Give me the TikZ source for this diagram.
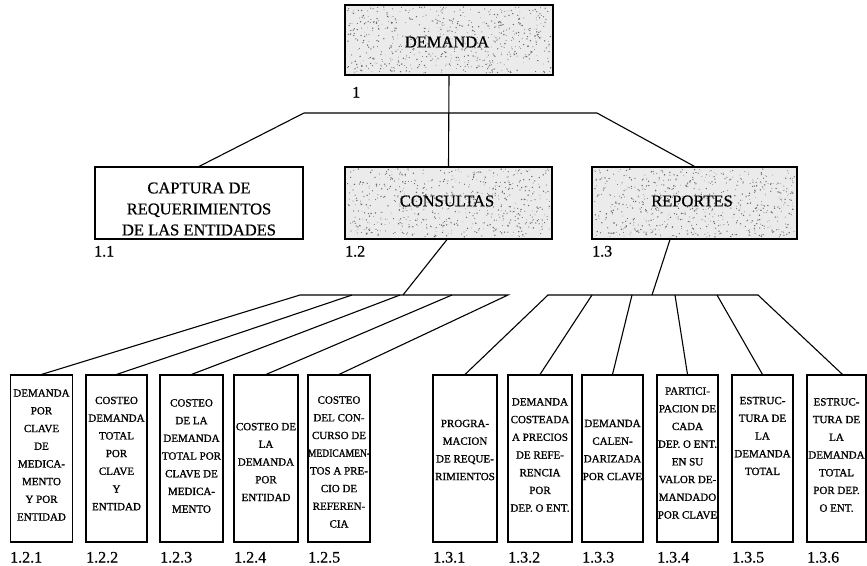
\documentclass[tikz,border=0pt]{standalone}
\usepackage{fontspec}
\usepackage{graphicx}
\setmainfont{Liberation Serif}
% slightly heavier face for the printed texts
\newfontfamily\inkfont[FakeBold=1.1]{Liberation Serif}
\newfontfamily\inklight[FakeBold=0.6]{Liberation Serif}
\usetikzlibrary{calc}

% squeeze an over-long line horizontally
\newcommand{\narrowline}[1]{\scalebox{0.87}[1]{#1}}

% grainy half-tone speckle inside a rectangle: x1,y1,x2,y2,count
\newcommand{\grain}[5]{%
  \foreach \k in {1,...,#5}{%
    \pgfmathsetmacro\gx{#1+rnd*(#3-#1)}%
    \pgfmathsetmacro\gy{#2+rnd*(#4-#2)}%
    \pgfmathsetmacro\gr{0.3+0.5*rnd}%
    \fill[graindot] (\gx,\gy) circle[radius=\gr pt];
  }%
}

\begin{document}
\begin{tikzpicture}[x=1pt,y=-1pt,
  boxframe/.style={draw=black, line width=1.1pt, inner sep=0pt},
  greybox/.style={boxframe, fill=black!8},
  graindot/.style={fill=black!60},
  midtext/.style={font=\inklight\fontsize{16.5}{21}\selectfont, align=center, inner sep=0pt},
  celltext/.style={font=\inkfont\fontsize{11}{17.7}\selectfont, align=center, inner sep=0pt},
  numlabel/.style={font=\inklight\fontsize{16}{16}\selectfont, anchor=base west, inner sep=0pt},
  wire/.style={line width=1.1pt, black},
  topbox/.style={minimum width=208pt, minimum height=71pt},
  cellbox/.style={boxframe, minimum width=62pt, minimum height=167pt}
]
\pgfmathsetseed{4711}
\useasboundingbox (0,0) rectangle (867,565);

% ---- level 0 ----
\node[greybox, topbox, minimum height=70pt] (dem) at (449,40) {};
\grain{347}{7}{551}{73}{650}
\node[midtext] (demt) at (447,42) {DEMANDA};
\node[numlabel] (n1) at (352,97.5) {1};

% ---- level 1 ----
\node[boxframe, topbox, minimum height=72pt] (cap) at (199,203) {};
\node[greybox, topbox, minimum width=207pt, minimum height=72pt] (con) at (448.5,203) {};
\node[greybox, topbox, minimum width=205pt, minimum height=72pt] (rep) at (694.5,203) {};
\grain{347}{169}{550}{237}{650}
\grain{594}{169}{795}{237}{650}

\node[midtext] (capt) at (199,209) {CAPTURA DE\\REQUERIMIENTOS\\DE LAS ENTIDADES};
\node[midtext] (cont) at (447,201) {CONSULTAS};
\node[midtext] (rept) at (692,201) {REPORTES};

\node[numlabel] (n11) at (94,256.5) {1.1};
\node[numlabel] (n12) at (345,256.5) {1.2};
\node[numlabel] (n13) at (592,256.5) {1.3};

% ---- level 2 boxes ----
\node[cellbox] (c1) at (41.5,458.5) {};
\node[cellbox, minimum width=61pt] (c2) at (116.5,458.5) {};
\node[cellbox, minimum width=63pt] (c3) at (191.5,458.5) {};
\node[cellbox, minimum width=64pt] (c4) at (266,458.5) {};
\node[cellbox] (c5) at (339,458.5) {};
\node[cellbox, minimum width=64pt] (r1) at (465,458.5) {};
\node[cellbox, minimum width=64pt] (r2) at (540,458.5) {};
\node[cellbox, minimum width=61pt] (r3) at (612.5,458.5) {};
\node[cellbox, minimum width=61pt] (r4) at (687.5,458.5) {};
\node[cellbox, minimum width=61pt] (r5) at (762.5,458.5) {};
\node[cellbox, minimum width=59pt] (r6) at (836.5,458.5) {};

\node[celltext] (c1t) at (41.5,455) {DEMANDA\\POR\\CLAVE\\DE\\MEDICA-\\MENTO\\Y POR\\ENTIDAD};
\node[celltext] (c2t) at (116.5,453.5) {COSTEO\\DEMANDA\\TOTAL\\POR\\CLAVE\\Y\\ENTIDAD};
\node[celltext] (c3t) at (191.5,456) {COSTEO\\DE LA\\DEMANDA\\TOTAL POR\\CLAVE DE\\MEDICA-\\MENTO};
\node[celltext] (c4t) at (266,462) {COSTEO DE\\LA\\DEMANDA\\POR\\ENTIDAD};
\node[celltext] (c5t) at (339,462) {COSTEO\\DEL CON-\\CURSO DE\\\narrowline{MEDICAMEN-}\\TOS A PRE-\\CIO DE\\REFEREN-\\CIA};
\node[celltext] (r1t) at (465,450) {PROGRA-\\MACION\\DE REQUE-\\RIMIENTOS};
\node[celltext] (r2t) at (540,455) {DEMANDA\\COSTEADA\\A PRECIOS\\DE REFE-\\RENCIA\\POR\\DEP. O ENT.};
\node[celltext] (r3t) at (612.5,450) {DEMANDA\\CALEN-\\DARIZADA\\POR CLAVE};
\node[celltext] (r4t) at (687.5,453) {PARTICI-\\PACION DE\\CADA\\DEP. O ENT.\\EN SU\\VALOR DE-\\MANDADO\\POR CLAVE};
\node[celltext] (r5t) at (762.5,436) {ESTRUC-\\TURA DE\\LA\\DEMANDA\\TOTAL};
\node[celltext] (r6t) at (836.5,455) {ESTRUC-\\TURA DE\\LA\\DEMANDA\\TOTAL\\POR DEP.\\O ENT.};

\node[numlabel] (n121) at (10,562.5) {1.2.1};
\node[numlabel] (n122) at (86,562.5) {1.2.2};
\node[numlabel] (n123) at (160,562.5) {1.2.3};
\node[numlabel] (n124) at (234,562.5) {1.2.4};
\node[numlabel] (n125) at (308,562.5) {1.2.5};
\node[numlabel] (n131) at (433,562.5) {1.3.1};
\node[numlabel] (n132) at (508,562.5) {1.3.2};
\node[numlabel] (n133) at (582,562.5) {1.3.3};
\node[numlabel] (n134) at (657,562.5) {1.3.4};
\node[numlabel] (n135) at (732,562.5) {1.3.5};
\node[numlabel] (n136) at (807,562.5) {1.3.6};

% ---- connectors: level 0 -> level 1 ----
\coordinate (b1) at (304,113);
\coordinate (b2) at (597,113);
\draw[wire] (cap.north) -- (b1) -- (b2) -- (rep.north);
\draw[wire] (dem.south) -- (con.north);

% ---- connectors: CONSULTAS -> 1.2.x ----
\coordinate (k1) at (300,295);
\coordinate (k2) at (352,295);
\coordinate (k3) at (400,295);
\coordinate (k4) at (452,295);
\coordinate (k5) at (508,295);
\coordinate (kc) at (403,295);
\draw[wire] (c1.north) -- (k1) -- (k5) -- (c5.north);
\draw[wire] (c2.north) -- (k2);
\draw[wire] (c3.north) -- (k3);
\draw[wire] (c4.north) -- (k4);
\draw[wire] ($(con.south)+(-1.5,0)$) -- (kc);

% ---- connectors: REPORTES -> 1.3.x ----
\coordinate (q1) at (548,295);
\coordinate (q2) at (592,295);
\coordinate (q3) at (632,295);
\coordinate (q4) at (675,295);
\coordinate (q5) at (717,295);
\coordinate (q6) at (758,295);
\coordinate (qc) at (652,295);
\draw[wire] (r1.north) -- (q1) -- (q6) -- ($(r6.north)+(6,0)$);
\draw[wire] (r2.north) -- (q2);
\draw[wire] (r3.north) -- (q3);
\draw[wire] (r4.north) -- (q4);
\draw[wire] (r5.north) -- (q5);
\draw[wire] ($(rep.south)+(-24.5,0)$) -- (qc);
\end{tikzpicture}
\end{document}
